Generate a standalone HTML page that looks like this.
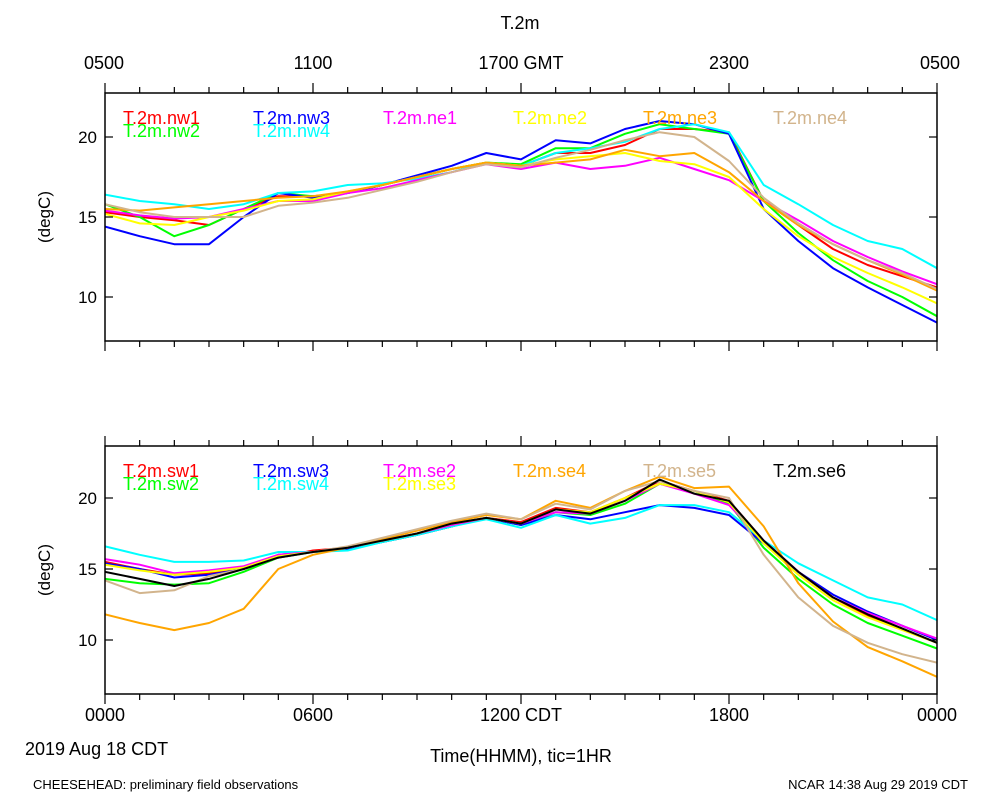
<!DOCTYPE html>
<html><head><meta charset="utf-8"><style>
body{margin:0;background:#fff}
svg{display:block}
text{font-family:"Liberation Sans Narrow","Liberation Sans",sans-serif;fill:#000}
</style></head><body>
<svg id="chart" width="1000" height="800" viewBox="0 0 1000 800">
<rect width="1000" height="800" fill="#fff"/>
<g id="g"></g>
</svg>
<script>
const hours=[0,1,2,3,4,5,6,7,8,9,10,11,12,13,14,15,16,17,18,19,20,21,22,23,24];
const topNames=["T.2m.nw1","T.2m.nw2","T.2m.nw3","T.2m.nw4","T.2m.ne1","T.2m.ne2","T.2m.ne3","T.2m.ne4"];
const topColors=["#ff0000","#00ff00","#0000ff","#00ffff","#ff00ff","#ffff00","#ffa500","#d2b48c"];
const nw1=[15.3,15.0,14.8,14.5,15.5,16.3,16.3,16.5,17.0,17.5,18.0,18.4,18.2,19.0,19.0,19.5,20.5,20.5,20.3,16.0,14.5,13.0,12.0,11.3,10.6];
const nw2=[15.8,15.0,13.8,14.5,15.5,16.5,16.3,16.5,17.0,17.5,18.0,18.4,18.3,19.3,19.3,20.2,20.8,20.5,20.2,16.0,14.0,12.3,11.0,10.0,8.8];
const nw3=[14.4,13.8,13.3,13.3,15.0,16.5,16.2,16.5,17.0,17.6,18.2,19.0,18.6,19.8,19.6,20.5,21.0,20.8,20.2,15.5,13.5,11.8,10.6,9.5,8.4];
const nw4=[16.4,16.0,15.8,15.5,15.8,16.5,16.6,17.0,17.1,17.4,17.8,18.4,18.2,19.0,19.3,19.7,20.5,20.8,20.3,17.0,15.8,14.5,13.5,13.0,11.8];
const ne1=[15.4,15.1,14.9,15.0,15.5,16.0,16.0,16.5,16.8,17.3,17.8,18.3,18.0,18.4,18.0,18.2,18.7,18.0,17.3,16.0,14.8,13.5,12.5,11.6,10.8];
const ne2=[15.2,14.6,14.5,15.0,15.4,16.0,16.1,16.6,17.0,17.5,18.0,18.4,18.2,18.6,18.8,19.0,18.5,18.3,17.5,15.5,13.8,12.5,11.5,10.6,9.6];
const ne3=[15.5,15.4,15.6,15.8,16.0,16.2,16.3,16.6,17.0,17.5,18.0,18.4,18.2,18.4,18.6,19.2,18.8,19.0,17.8,16.0,14.5,13.3,12.3,11.4,10.4];
const ne4=[15.8,15.3,15.0,15.0,15.0,15.7,15.9,16.2,16.7,17.2,17.8,18.3,18.1,18.7,19.2,19.8,20.3,20.0,18.5,16.2,14.6,13.3,12.3,11.5,10.5];
const botNames=["T.2m.sw1","T.2m.sw2","T.2m.sw3","T.2m.sw4","T.2m.se2","T.2m.se3","T.2m.se4","T.2m.se5","T.2m.se6"];
const botColors=["#ff0000","#00ff00","#0000ff","#00ffff","#ff00ff","#ffff00","#ffa500","#d2b48c","#000000"];
const sw1=[15.5,15.0,14.6,14.7,15.0,15.8,16.3,16.5,17.0,17.5,18.2,18.6,18.3,19.3,19.0,20.0,21.2,20.5,19.8,17.0,14.8,13.0,11.7,10.8,9.8];
const sw2=[14.3,14.0,13.9,14.0,14.8,15.8,16.2,16.4,16.9,17.4,18.0,18.6,18.1,19.0,18.8,19.6,21.0,20.5,19.6,16.5,14.3,12.5,11.2,10.3,9.4];
const sw3=[15.4,15.0,14.4,14.6,15.0,16.0,16.2,16.4,16.9,17.4,18.0,18.6,18.1,18.8,18.5,19.0,19.5,19.3,18.8,16.8,14.8,13.2,12.0,11.0,10.0];
const sw4=[16.6,16.0,15.5,15.5,15.6,16.2,16.2,16.3,16.9,17.4,18.0,18.5,17.9,18.8,18.2,18.6,19.5,19.5,19.0,17.0,15.4,14.2,13.0,12.5,11.4];
const se2=[15.7,15.3,14.7,14.9,15.2,16.0,16.2,16.5,17.0,17.5,18.1,18.6,18.2,19.0,18.9,19.8,21.0,20.3,19.5,17.0,14.8,13.0,11.9,11.0,10.1];
const se3=[15.3,14.9,14.6,14.8,15.1,15.9,16.2,16.5,17.0,17.5,18.2,18.6,18.2,19.2,19.0,20.0,21.0,20.5,19.7,16.8,14.6,12.8,11.6,10.7,9.8];
const se4=[11.8,11.2,10.7,11.2,12.2,15.0,16.0,16.5,17.1,17.7,18.3,18.8,18.5,19.8,19.3,20.5,21.5,20.7,20.8,18.0,14.0,11.3,9.5,8.5,7.4];
const se5=[14.2,13.3,13.5,14.5,15.0,15.8,16.2,16.6,17.2,17.8,18.4,18.9,18.5,19.6,19.2,20.5,21.2,20.5,20.0,16.0,13.0,11.0,9.8,9.0,8.4];
const se6=[14.8,14.3,13.8,14.3,15.0,15.8,16.2,16.5,17.0,17.5,18.2,18.6,18.2,19.2,18.9,19.8,21.3,20.3,19.8,17.0,14.8,13.0,11.8,10.8,9.8];
const yTicks=[10,15,20];
const topTickLabels=["0500","1100","1700 GMT","2300","0500"];
const botTickLabels=["0000","0600","1200 CDT","1800","0000"];

const NS="http://www.w3.org/2000/svg";
const g=document.getElementById('g');
function el(tag,attrs,parent){const e=document.createElementNS(NS,tag);for(const k in attrs)e.setAttribute(k,attrs[k]);(parent||g).appendChild(e);return e;}
const X0=105,X1=937;
function xs(h){return X0+(X1-X0)*h/24;}
const panels=[
 {top:93,bot:341,y20:137,ppd:16,series:[nw1,nw2,nw3,nw4,ne1,ne2,ne3,ne4],names:topNames,colors:topColors,key:"top"},
 {top:446,bot:694,y20:498,ppd:14.2,series:[sw1,sw2,sw3,sw4,se2,se3,se4,se5,se6],names:botNames,colors:botColors,key:"bottom"}
];
panels.forEach(p=>{
 const ys=v=>p.y20-(v-20)*p.ppd;
 const pg=el('g',{});
 
 
 const clipId='clip'+p.key;
 const cp=el('clipPath',{id:clipId},pg);el('rect',{x:X0,y:p.top,width:X1-X0,height:p.bot-p.top},cp);
 const lg=el('g',{'clip-path':'url(#'+clipId+')'},pg);
 p.series.forEach((s,i)=>{
  const d=s.map((v,j)=>(j?'L':'M')+xs(hours[j]).toFixed(1)+','+ys(v).toFixed(1)).join('');
  const path=el('path',{d:d,fill:'none',stroke:p.colors[i],'stroke-width':2,'stroke-linejoin':'round'},lg);
  
  
 });
 const frame=el('rect',{x:X0,y:p.top,width:X1-X0,height:p.bot-p.top,fill:'none',stroke:'#000','stroke-width':1.5},pg);
 
 
 for(let h=0;h<=24;h++){
  const L=h%6===0?10:6;const x=xs(h);
  el('line',{x1:x,x2:x,y1:p.bot,y2:p.bot+L,stroke:'#000','stroke-width':1.2},pg);
  el('line',{x1:x,x2:x,y1:p.top,y2:p.top-L,stroke:'#000','stroke-width':1.2},pg);
 }
 yTicks.forEach(v=>{
  const y=ys(v);
  el('line',{x1:X0,x2:X0+8,y1:y,y2:y,stroke:'#000','stroke-width':1.2},pg);
  el('line',{x1:X1,x2:X1-8,y1:y,y2:y,stroke:'#000','stroke-width':1.2},pg);
  const t=el('text',{x:X0-8,y:y+6,'text-anchor':'end','font-size':17},pg);t.textContent=v;
  
  
 });
 const yt=el('text',{x:0,y:0,'text-anchor':'middle','font-size':17,transform:'translate(50,'+((p.top+p.bot)/2)+') rotate(-90)'},pg);
 yt.textContent='(degC)';
 
 
 const lx=[123,123,255,255,385,385,515,645,775];
 p.names.forEach((n,i)=>{
  let col,row;
  if(p.key==='top'){col=[0,0,1,1,2,3,4,5][i];row=[0,1,0,1,0,0,0,0][i];}
  else{col=[0,0,1,1,2,2,3,4,5][i];row=[0,1,0,1,0,1,0,0,0][i];}
  const t=el('text',{x:123+col*130,y:p.top+31+row*13,'font-size':18,fill:p.colors[i]},pg);
  t.style.fill=p.colors[i];
  t.textContent=n;
  
  
 });
});
function txt(x,y,s,size,anchor,name){const t=el('text',{x:x,y:y,'font-size':size,'text-anchor':anchor||'middle'});t.textContent=s;
 
 return t;}
txt(520,29,'T.2m',18,'middle','chart-title');
topTickLabels.forEach((s,i)=>{const t=txt(xs(i*6),69,s,18,i===0?'start':(i===4?'end':'middle'),'top-x-tick-label');if(i===0)t.setAttribute('x',84);if(i===4)t.setAttribute('x',960);});
botTickLabels.forEach((s,i)=>{txt(xs(i*6),721,s,18,'middle','bottom-x-tick-label');});
txt(25,755,'2019 Aug 18 CDT',18,'start','date-label');
txt(521,762,'Time(HHMM), tic=1HR',18,'middle','x-axis-title');
txt(33,789,'CHEESEHEAD: preliminary field observations',13,'start','footer-left');
txt(968,789,'NCAR 14:38 Aug 29 2019 CDT',13,'end','footer-right');
</script>
</body></html>
